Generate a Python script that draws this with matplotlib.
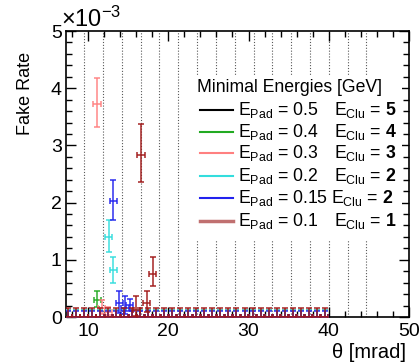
import numpy as np
import matplotlib
matplotlib.use("Agg")
import matplotlib.pyplot as plt
from matplotlib.lines import Line2D
from matplotlib.patches import Rectangle

plt.rcParams['font.family'] = ['Liberation Sans', 'DejaVu Sans']
plt.rcParams['mathtext.fontset'] = 'custom'
plt.rcParams['mathtext.rm'] = 'Liberation Sans'
plt.rcParams['mathtext.bf'] = 'Liberation Sans:bold'
plt.rcParams['mathtext.it'] = 'Liberation Sans:italic'
plt.rcParams['mathtext.default'] = 'rm'

# theta bins (mrad) where the fake rate is zero, shared by all settings
theta_bins = [7.5, 8.5, 9.5, 10.5, 11.5, 12.5, 13.5, 14.5, 15.5, 16.5, 17.5,
              18.5, 19.5, 20.5, 21.5, 22.5, 23.5, 24.5, 25.5, 26.5, 27.5, 28.5,
              29.5, 30.5, 31.5, 32.5, 33.5, 34.5, 35.5, 36.5, 37.5, 38.5, 39.5]

# settings: (E_pad, E_clu)
e_pad = ['0.5', '0.4', '0.3', '0.2', '0.15', '0.1']
e_clu = ['5', '4', '3', '2', '2', '1']
colors = ['#000000', '#22aa22', '#ff8080', '#33dddd', '#2222ee', '#a01818']
legend_colors = ['#000000', '#22aa22', '#ff8080', '#33dddd', '#2222ee', '#c07070']

# upper error of the zero bins (x 1e-3)
zero_err = [0.12, 0.12, 0.13, 0.12, 0.10, 0.15]

# non-zero points: theta, rate, +err, -err  (rate in units of 1e-3)
nz_x = [[], [11.15], [11.1, 11.7, 12.5], [12.55, 13.15],
        [13.15, 13.9, 14.6, 15.2], [16.0, 16.6, 17.3, 18.05]]
nz_y = [[], [0.29], [3.72, 0.16, 0.09], [1.40, 0.82],
        [2.02, 0.24, 0.16, 0.21], [0.12, 2.83, 0.24, 0.75]]
nz_up = [[], [0.16], [0.46, 0.14, 0.08], [0.30, 0.23],
         [0.37, 0.21, 0.21, 0.10], [0.24, 0.54, 0.22, 0.30]]
nz_dn = [[], [0.11], [0.40, 0.10, 0.06], [0.27, 0.22],
         [0.32, 0.17, 0.10, 0.10], [0.10, 0.47, 0.15, 0.21]]

fig = plt.figure(figsize=(4.2, 3.63), dpi=100)
ax = fig.add_axes([66/420, 1-317/363, (409-66)/420, (317-31)/363])

# pad boundaries
for xv in np.linspace(9.5, 44.7, 16):
    ax.axvline(xv, color='0.35', lw=0.8, ls=(0, (1, 1.6)), zorder=0)

for i in range(6):
    zb = np.array(theta_bins)
    ax.errorbar(zb, np.zeros(len(zb)), xerr=0.45,
                yerr=[np.zeros(len(zb)), np.full(len(zb), zero_err[i])],
                fmt='none', ecolor=colors[i], elinewidth=1.3, capsize=2.2,
                capthick=1.3, alpha=0.8, zorder=2+i)
    if nz_x[i]:
        ax.errorbar(nz_x[i], nz_y[i], xerr=0.45, yerr=[nz_dn[i], nz_up[i]],
                    fmt='none', ecolor=colors[i], elinewidth=1.3, capsize=2.2,
                    capthick=1.3, alpha=0.8, zorder=2+i)

ax.set_xlim(7.25, 50)
ax.set_ylim(0, 5)
ax.set_xticks([10, 20, 30, 40, 50])
ax.set_xticks(np.arange(8, 50, 2), minor=True)
ax.set_yticks([0, 1, 2, 3, 4, 5])
ax.set_yticks(np.arange(0, 5, 0.2), minor=True)
ax.tick_params(which='both', direction='in', top=True, right=True,
               labelsize=14, width=1)
ax.tick_params(which='major', length=7)
ax.tick_params(which='minor', length=4)
ax.tick_params(axis='x', pad=4)
ax.tick_params(axis='y', pad=3)
for s in ax.spines.values():
    s.set_linewidth(1.2)

px = lambda x: x / 420
py = lambda y: 1 - y / 363

fig.text(px(61), py(27), '×10$^{-3}$', fontsize=17, ha='left', va='baseline')
fig.text(px(25), py(52), 'Fake Rate', fontsize=13, rotation=90,
         ha='center', va='top')
fig.text(px(406), py(362), 'θ [mrad]', fontsize=14.5, ha='right', va='bottom')

# legend box drawn by hand
fig.add_artist(Rectangle((px(192), py(240)), px(402) - px(192), py(75) - py(240),
                         transform=fig.transFigure, facecolor='white',
                         edgecolor='none', zorder=10))
fig.text(px(197), py(88), 'Minimal Energies [GeV]', fontsize=12.7,
         ha='left', va='center', zorder=11)
rows = [110, 132, 153, 176, 198, 221]
for i in range(6):
    fig.add_artist(Line2D([px(200), px(233)], [py(rows[i]), py(rows[i])],
                          color=legend_colors[i], lw=1.5 if i < 5 else 2.5,
                          zorder=11))
    fig.text(px(238), py(rows[i]), 'E$_{Pad}$ = ' + e_pad[i], fontsize=12.7,
             ha='left', va='center', zorder=11)
    fig.text(px(334 if i != 4 else 331), py(rows[i]),
             'E$_{Clu}$ = $\\mathbf{' + e_clu[i] + '}$', fontsize=12.7,
             ha='left', va='center', zorder=11)

fig.savefig('out.png', dpi=100)
